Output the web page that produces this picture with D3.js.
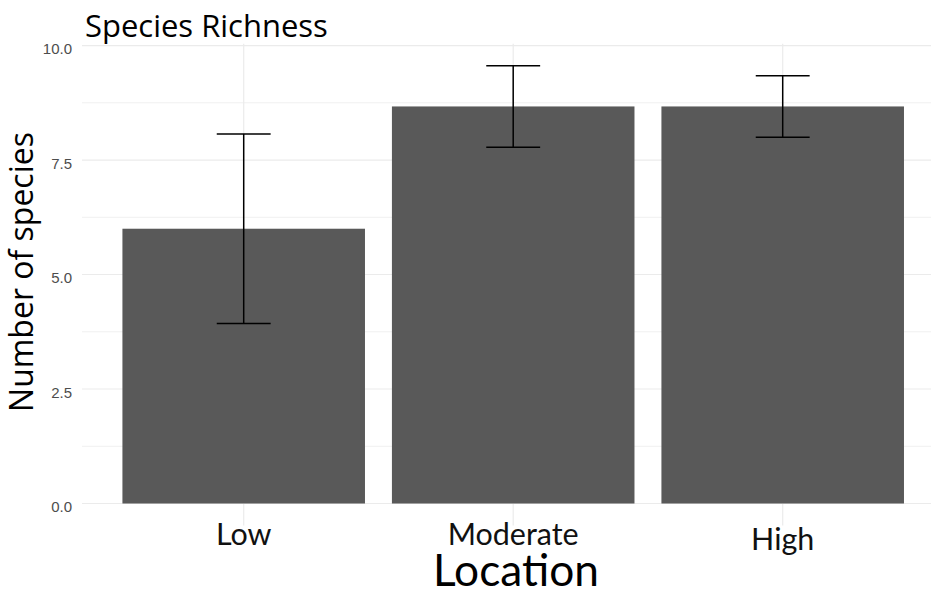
<!DOCTYPE html>
<html>
<head>
<meta charset="utf-8">
<script src="https://cdn.jsdelivr.net/npm/d3@7"></script>
<style>
  body { margin: 0; background: #ffffff; }
  svg { display: block; }
</style>
</head>
<body>
<svg id="chart" width="931" height="589"></svg>
<script>
// Mean species richness per location, with the error half-widths
const categories = ["Low", "Moderate", "High"];
const meanSpecies = [6.0, 8.67, 8.67];
const errorSpecies = [2.07, 0.89, 0.67];

// Axis ticks
const yTicks = [0, 2.5, 5, 7.5, 10];
const yTickLabels = ["0.0", "2.5", "5.0", "7.5", "10.0"];
const yMinorTicks = [1.25, 3.75, 6.25, 8.75];

const titleText = "Species Richness";
const xTitleText = "Location";
const yTitleText = "Number of species";

const rows = categories.map((c, i) => ({
  category: c,
  mean: meanSpecies[i],
  lo: meanSpecies[i] - errorSpecies[i],
  hi: meanSpecies[i] + errorSpecies[i]
}));

const svg = d3.select("#chart");
const W = 931, H = 589;

// Panel geometry (the panel runs slightly past the right edge of the canvas)
const panel = { left: 82, top: 43.8, bottom: 525.4, step: 269.5 };
panel.right = panel.left + 3.2 * panel.step;

// Discrete x scale: bars take 0.9 of each step, 0.6 step expansion on both ends
const x = d3.scaleBand()
  .domain(categories)
  .range([panel.left, panel.right])
  .paddingInner(0.1)
  .paddingOuter(0.15);
const xc = d => x(d) + x.bandwidth() / 2;

// Continuous y scale with 5% expansion around [0, max]
const yMax = d3.max(rows, d => d.hi);
const y = d3.scaleLinear()
  .domain([-0.05 * yMax, yMax * 1.05])
  .range([panel.bottom, panel.top]);

const grid = svg.append("g");
// minor horizontal grid
grid.selectAll("line.minor").data(yMinorTicks).join("line")
  .attr("class", "minor")
  .attr("x1", panel.left).attr("x2", panel.right)
  .attr("y1", d => y(d)).attr("y2", d => y(d))
  .attr("stroke", "#f0f0f0").attr("stroke-width", 1);
// major horizontal grid
grid.selectAll("line.major").data(yTicks).join("line")
  .attr("class", "major")
  .attr("x1", panel.left).attr("x2", panel.right)
  .attr("y1", d => y(d)).attr("y2", d => y(d))
  .attr("stroke", "#ebebeb").attr("stroke-width", 1.2);
// vertical grid at each category
grid.selectAll("line.vmajor").data(categories).join("line")
  .attr("class", "vmajor")
  .attr("x1", d => xc(d)).attr("x2", d => xc(d))
  .attr("y1", panel.top).attr("y2", panel.bottom)
  .attr("stroke", "#ebebeb").attr("stroke-width", 1.2);

// bars
svg.append("g").selectAll("rect").data(rows).join("rect")
  .attr("x", d => x(d.category))
  .attr("width", x.bandwidth())
  .attr("y", d => y(d.mean))
  .attr("height", d => y(0) - y(d.mean))
  .attr("fill", "#595959");

// error bars
const capHalf = 0.1 * x.step();
const eb = svg.append("g").attr("stroke", "#000000").attr("stroke-width", 1.5);
rows.forEach(d => {
  const cx = xc(d.category);
  eb.append("line").attr("x1", cx).attr("x2", cx).attr("y1", y(d.hi)).attr("y2", y(d.lo));
  eb.append("line").attr("x1", cx - capHalf).attr("x2", cx + capHalf).attr("y1", y(d.hi)).attr("y2", y(d.hi));
  eb.append("line").attr("x1", cx - capHalf).attr("x2", cx + capHalf).attr("y1", y(d.lo)).attr("y2", y(d.lo));
});

// y axis labels
const yAxis = d3.axisLeft(y)
  .tickValues(yTicks)
  .tickFormat((d, i) => yTickLabels[i])
  .tickSize(0)
  .tickPadding(10);
const gy = svg.append("g").attr("transform", `translate(${panel.left},0)`).call(yAxis);
gy.select(".domain").remove();
gy.selectAll("text")
  .attr("dy", "0.55em")
  .attr("fill", "#4d4d4d")
  .style("font-family", "'Liberation Sans', Arial, sans-serif")
  .style("font-size", "15px");

// x axis labels
const xAxis = d3.axisBottom(x).tickSize(0).tickPadding(0);
const gx = svg.append("g").attr("transform", `translate(0,${panel.bottom})`).call(xAxis);
gx.select(".domain").remove();
gx.selectAll("text")
  .attr("y", d => d === "High" ? 24.6 : 19.6)
  .attr("dy", 0)
  .attr("fill", "#111111")
  .style("font-family", "Lato, 'Noto Sans', sans-serif")
  .style("font-size", "30px");

// fit a text element's font size so it spans the given width
function fitWidth(sel, target) {
  const base = 20;
  sel.style("font-size", base + "px");
  const len = sel.node().getComputedTextLength();
  sel.style("font-size", (base * target / len) + "px");
  return sel;
}

// fit tick label sizes using "Moderate" as reference
(function () {
  const mod = gx.selectAll("text").filter(d => d === "Moderate");
  const len = mod.node().getComputedTextLength();
  const size = 30 * 131 / len;
  gx.selectAll("text").style("font-size", size + "px");
})();

// chart title
const title = svg.append("text")
  .attr("x", 85).attr("y", 37)
  .attr("fill", "#000000")
  .style("font-family", "'Open Sans', 'Noto Sans', sans-serif")
  .text(titleText);
fitWidth(title, 243);

// x axis title
const xTitle = svg.append("text")
  .attr("x", 516).attr("y", 586)
  .attr("text-anchor", "middle")
  .attr("fill", "#000000")
  .style("font-family", "Lato, 'Noto Sans', sans-serif")
  .text(xTitleText);
fitWidth(xTitle, 166);

// y axis title
const yTitle = svg.append("text")
  .attr("transform", "translate(33,272) rotate(-90)")
  .attr("text-anchor", "middle")
  .attr("fill", "#000000")
  .style("font-family", "'Open Sans', 'Noto Sans', sans-serif")
  .text(yTitleText);
fitWidth(yTitle, 280);
</script>
</body>
</html>
